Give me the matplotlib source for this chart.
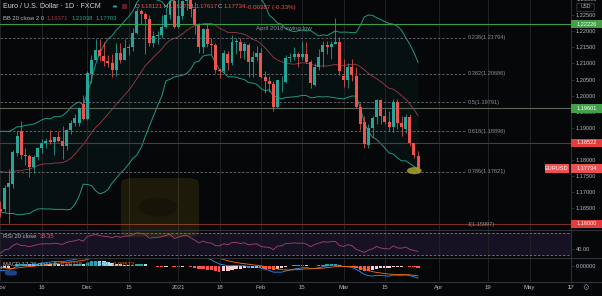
import numpy as np
import pandas as pd
import matplotlib
matplotlib.use("Agg")
import matplotlib.pyplot as plt
from matplotlib.patches import Ellipse, FancyBboxPatch, Rectangle, Circle
from matplotlib.transforms import blended_transform_factory, Bbox

plt.rcParams['font.family'] = ['Liberation Sans', 'DejaVu Sans']

W, H = 602, 296
BG = "#060709"
UP, DOWN = "#26a69a", "#ef5350"
TXT = "#b2b5be"

# daily EURUSD (FXCM), Nov 2 2020 .. Mar 25 2021, no bars on Dec 25 / Jan 1
opens = [1.1647, 1.1648, 1.1714, 1.1726, 1.1822, 1.1890, 1.1814, 1.1812, 1.1777, 1.1808,
         1.1837, 1.1853, 1.1860, 1.1854, 1.1871, 1.1858, 1.1842, 1.1892, 1.1913, 1.1916,
         1.1974, 1.1927, 1.2068, 1.2112, 1.2143, 1.2124, 1.2107, 1.2101, 1.2080, 1.2133,
         1.2110, 1.2147, 1.2150, 1.2196, 1.2262, 1.2253, 1.2238, 1.2164, 1.2186, 1.2189,
         1.2213, 1.2250, 1.2295, 1.2215, 1.2248, 1.2296, 1.2325, 1.2269, 1.2220, 1.2150,
         1.2207, 1.2162, 1.2156, 1.2080, 1.2076, 1.2128, 1.2101, 1.2166, 1.2168, 1.2140,
         1.2157, 1.2105, 1.2121, 1.2133, 1.2059, 1.2044, 1.2036, 1.1963, 1.2049, 1.2043,
         1.2116, 1.2120, 1.2130, 1.2121, 1.2128, 1.2104, 1.2033, 1.2090, 1.2136, 1.2158,
         1.2150, 1.2160, 1.2168, 1.2061, 1.2050, 1.2090, 1.2061, 1.1965, 1.1919, 1.1846,
         1.1898, 1.1932, 1.1987, 1.1937, 1.1918, 1.1903, 1.1981, 1.1913, 1.1896, 1.1934,
         1.1851, 1.18121]
highs = [1.1670, 1.1720, 1.1770, 1.1830, 1.1891, 1.1920, 1.1837, 1.1818, 1.1815, 1.1840,
         1.1865, 1.1868, 1.1892, 1.1872, 1.1890, 1.1905, 1.1895, 1.1925, 1.1942, 1.1965,
         1.2002, 1.2077, 1.2125, 1.2175, 1.2177, 1.2167, 1.2126, 1.2128, 1.2163, 1.2165,
         1.2177, 1.2162, 1.2211, 1.2273, 1.2269, 1.2260, 1.2250, 1.2200, 1.2200, 1.2250,
         1.2275, 1.2310, 1.2310, 1.2310, 1.2299, 1.2349, 1.2344, 1.2290, 1.2226, 1.2210,
         1.2223, 1.2180, 1.2165, 1.2086, 1.2143, 1.2140, 1.2190, 1.2180, 1.2179, 1.2168,
         1.2165, 1.2138, 1.2155, 1.2147, 1.2076, 1.2060, 1.2046, 1.2050, 1.2061, 1.2125,
         1.2134, 1.2150, 1.2137, 1.2170, 1.2168, 1.2110, 1.2100, 1.2145, 1.2170, 1.2170,
         1.2170, 1.2243, 1.2183, 1.2113, 1.2100, 1.2113, 1.2088, 1.1977, 1.1936, 1.1910,
         1.1935, 1.1990, 1.1990, 1.1958, 1.1953, 1.1989, 1.1990, 1.1935, 1.1944, 1.1942,
         1.1853, 1.18278]
lows = [1.1622, 1.1638, 1.1603, 1.1712, 1.1812, 1.1803, 1.1785, 1.1745, 1.1760, 1.1800,
        1.1820, 1.1838, 1.1848, 1.1815, 1.1855, 1.1802, 1.1830, 1.1880, 1.1905, 1.1905,
        1.1924, 1.1925, 1.2040, 1.2110, 1.2107, 1.2092, 1.2088, 1.2058, 1.2060, 1.2100,
        1.2110, 1.2126, 1.2140, 1.2191, 1.2222, 1.2130, 1.2155, 1.2150, 1.2162, 1.2180,
        1.2210, 1.2240, 1.2210, 1.2210, 1.2237, 1.2266, 1.2246, 1.2193, 1.2133, 1.2132,
        1.2152, 1.2128, 1.2071, 1.2054, 1.2071, 1.2080, 1.2095, 1.2130, 1.2118, 1.2115,
        1.2058, 1.2057, 1.2107, 1.2055, 1.2008, 1.2010, 1.1952, 1.1960, 1.2010, 1.2040,
        1.2105, 1.2112, 1.2090, 1.2110, 1.2101, 1.2022, 1.2030, 1.2080, 1.2090, 1.2130,
        1.2115, 1.2160, 1.2064, 1.2027, 1.2024, 1.2045, 1.1962, 1.1892, 1.1836, 1.1837,
        1.1872, 1.1910, 1.1910, 1.1910, 1.1890, 1.1885, 1.1895, 1.1873, 1.1883, 1.1842,
        1.1806, 1.17617]
closes = [1.1641, 1.1712, 1.1728, 1.1823, 1.1875, 1.1814, 1.1812, 1.1777, 1.1808, 1.1837,
          1.1853, 1.1858, 1.1854, 1.1871, 1.1858, 1.1842, 1.1892, 1.1913, 1.1930, 1.1961,
          1.1927, 1.2070, 1.2112, 1.2143, 1.2122, 1.2107, 1.2101, 1.2080, 1.2133, 1.2110,
          1.2147, 1.2150, 1.2196, 1.2262, 1.2253, 1.2238, 1.2164, 1.2187, 1.2189, 1.2213,
          1.2250, 1.2295, 1.2215, 1.2248, 1.2296, 1.2325, 1.2269, 1.2220, 1.2150, 1.2207,
          1.2162, 1.2156, 1.2080, 1.2076, 1.2132, 1.2101, 1.2166, 1.2170, 1.2140, 1.2160,
          1.2105, 1.2121, 1.2133, 1.2059, 1.2044, 1.2036, 1.1965, 1.2049, 1.2050, 1.2116,
          1.2120, 1.2130, 1.2121, 1.2128, 1.2104, 1.2038, 1.2090, 1.2120, 1.2158, 1.2150,
          1.2160, 1.2168, 1.2075, 1.2050, 1.2090, 1.2064, 1.1965, 1.1910, 1.1849, 1.1898,
          1.1929, 1.1987, 1.1935, 1.1918, 1.1901, 1.1981, 1.1913, 1.1903, 1.1934, 1.1851,
          1.1815, 1.17734]
# Sep/Oct 2020 closes, left of the visible range - only used to warm up the indicators
warmup = [1.1911, 1.1854, 1.1852, 1.1837, 1.1817, 1.1779, 1.1802, 1.1812, 1.1846, 1.1864,
          1.1846, 1.1815, 1.1848, 1.1838, 1.1770, 1.1703, 1.1658, 1.1671, 1.1631, 1.1667,
          1.1745, 1.1720, 1.1747, 1.1716, 1.1782, 1.1736, 1.1760, 1.1758, 1.1826, 1.1813,
          1.1746, 1.1747, 1.1706, 1.1717, 1.1770, 1.1825, 1.1862, 1.1817, 1.1860, 1.1811,
          1.1794, 1.1747, 1.1676, 1.1646]

first_day = "2020-11-02"
no_bar_days = ["2020-12-25", "2021-01-01"]
tick_days = ["2020-11-02", "2020-11-16", "2020-12-01", "2020-12-15", "2021-01-04", "2021-01-18",
             "2021-02-01", "2021-02-15", "2021-03-01", "2021-03-15", "2021-04-01", "2021-04-19",
             "2021-05-03", "2021-05-17"]
tick_names = ["Nov", "16", "Dec", "15", "2021", "18", "Feb", "15", "Mar", "15", "Apr", "19", "May", "17"]

fib_top, fib_bottom = 1.23585, 1.15997
fib_ratios = [0.236, 0.382, 0.5, 0.618, 0.786, 1.0]
swing_low = 1.22226
level_green = 1.19601
level_red = 1.18522
level_low = 1.16000

# ---- calendar / indicators ----
days = pd.bdate_range(first_day, "2021-06-30", freq="C", holidays=no_bar_days)
pos = {d.strftime("%Y-%m-%d"): i for i, d in enumerate(days)}
tick_x = [pos[d] for d in tick_days]

n = len(closes)
x = np.arange(n)
allc = pd.Series(warmup + closes)
xa = np.arange(-len(warmup), n)
basis = allc.rolling(20).mean()
sd = allc.rolling(20).std(ddof=0)
upper, lower = basis + 2 * sd, basis - 2 * sd

d = allc.diff()
ag = d.clip(lower=0).ewm(alpha=1 / 20, adjust=False).mean()
al = (-d.clip(upper=0)).ewm(alpha=1 / 20, adjust=False).mean()
rsi = 100 - 100 / (1 + ag / al)

macd = allc.ewm(span=12, adjust=False).mean() - allc.ewm(span=26, adjust=False).mean()
signal = macd.ewm(span=9, adjust=False).mean()
hist = macd - signal

# ---- figure ----
fig = plt.figure(figsize=(W / 100, H / 100), dpi=100, facecolor=BG)
axw = 571 / W


def box(top, bottom):
    return [0, 1 - bottom / H, axw, (bottom - top) / H]


ax = fig.add_axes(box(0, 229.5))
ax_rsi = fig.add_axes(box(230.5, 257.5))
ax_m = fig.add_axes(box(258.5, 281))

XL = (-0.12, 137.47)
for a in (ax, ax_rsi, ax_m):
    a.set_facecolor(BG)
    a.set_xlim(*XL)
    for s in ("top", "left", "bottom"):
        a.spines[s].set_visible(False)
    a.spines["right"].set_color("#2a2e39")
    a.spines["right"].set_linewidth(0.8)
    a.yaxis.tick_right()
    a.set_xticks(tick_x)
    a.grid(axis="x", color="#222328", lw=0.7)
    a.tick_params(axis="x", length=0, labelbottom=False)
    a.tick_params(axis="y", length=2, width=0.5, color="#363a45", labelsize=4.1,
                  labelcolor=TXT, pad=1.6)

# main panel
ax.set_ylim(1.15827, 1.22977)
yt = np.round(np.arange(1.165, 1.2251, 0.005), 3)
ax.set_yticks(yt)
ax.set_yticklabels([f"{v:.5f}" for v in yt])

ax.fill_between(xa, lower, upper, color="#1d8f7a", alpha=0.07, lw=0)
ax.plot(xa, upper, color="#1f9a80", lw=0.7)
ax.plot(xa, lower, color="#1f9a80", lw=0.7)
ax.plot(xa, basis, color="#a13a4b", lw=0.6)

for i, r in enumerate(fib_ratios):
    v = fib_top - r * (fib_top - fib_bottom)
    ax.plot([XL[0], 112.65], [v, v], color="#6b6d74", lw=0.6, ls=(0, (3, 2)))
    lab = "1" if r == 1 else f"{r:g}"
    ax.text(113.0, v, f"{lab}({v:.5f})", color="#8a8d96", fontsize=4.1, va="center", ha="left")

ax.axhline(swing_low, color="#3f9a48", lw=0.8)
ax.axhline(level_green, color="#5a6656", lw=0.8)
ax.axhline(level_red, color="#7f2626", lw=0.8)
ax.axhline(level_low, color="#7a2f24", lw=0.8)
ax.text(68.5, swing_low - 0.0015, "April 2018 swing low", color="#8f929b", fontsize=4.4,
        ha="center", va="center")

cols = [UP if c >= o else DOWN for o, c in zip(opens, closes)]
ax.vlines(x, lows, highs, colors=cols, lw=0.55, zorder=3)
bot = np.minimum(opens, closes)
hgt = np.maximum(np.abs(np.array(closes) - np.array(opens)), 0.00008)
ax.bar(x, hgt, bottom=bot, width=0.72, color=cols, lw=0, zorder=4)

ax.add_patch(Ellipse((100.1, 1.17659), 3.6, 0.0022, color="#b5b02c", alpha=0.8, lw=0, zorder=5))

# RSI panel
ax_rsi.set_ylim(25.5, 73.9)
ax_rsi.axhspan(30, 70, color="#7e57c2", alpha=0.14, lw=0)
ax_rsi.axhline(70, color="#787b86", lw=0.6, ls=(0, (3, 2)))
ax_rsi.axhline(30, color="#787b86", lw=0.6, ls=(0, (3, 2)))
ax_rsi.plot(xa, rsi, color="#a8436f", lw=0.6)
ax_rsi.set_yticks([40])
ax_rsi.set_yticklabels(["40.00"])

# MACD panel
ax_m.set_ylim(-0.00782, 0.00391)
hv = hist.values
hcol = []
for k in range(len(hv)):
    prev = hv[k - 1] if k > 0 else 0
    if hv[k] >= 0:
        hcol.append("#26a69a" if hv[k] > prev else "#b2dfdb")
    else:
        hcol.append("#ff5252" if hv[k] < prev else "#ffcdd2")
ax_m.bar(xa, hv, width=0.8, color=hcol, lw=0)
ax_m.plot(xa, macd, color="#2196f3", lw=0.6)
ax_m.plot(xa, signal, color="#ff6d00", lw=0.6)
ax_m.set_yticks([0])
ax_m.set_yticklabels(["0.00000"])
ax_m.tick_params(axis="x", labelbottom=True, labelsize=4.3, labelcolor=TXT, pad=3.2)
ax_m.set_xticklabels(tick_names)
tr = blended_transform_factory(ax_m.transData, ax_m.transAxes)
t17 = ax_m.text(pos["2021-05-17"], -0.31, "17", transform=tr, fontsize=4.3, color=TXT,
                ha="center", va="center", clip_on=True)
t17.set_clip_box(Bbox([[0, 0], [571, H]]))

# panel separators
for yy in (230, 258, 281.5):
    fig.add_artist(plt.Line2D([0, 1], [1 - yy / H] * 2, color="#2f323b", lw=0.8))

# right-axis price tags
trm = blended_transform_factory(ax.transAxes, ax.transData)
bw = 31 / 571
th = 8.5 / 3210


def tag(v, text, fc, x0=1.0, w=bw):
    ax.add_patch(Rectangle((x0, v - th / 2), w, th, transform=trm, color=fc, lw=0,
                           clip_on=False, zorder=6))
    ax.text(x0 + w / 2, v, text, transform=trm, color="white", fontsize=4.1, ha="center",
            va="center", clip_on=False, zorder=7)


tag(swing_low, f"{swing_low:.5f}", "#43a047")
tag(level_green, f"{level_green:.5f}", "#43a047")
tag(level_red, f"{level_red:.5f}", "#e53b3b")
tag(level_low, f"{level_low:.5f}", "#e53b3b")
tag(closes[-1], f"{closes[-1]:.5f}", "#ef4f4f")
tag(closes[-1], "EURUSD", "#ef4f4f", x0=545 / 571, w=23.5 / 571)

fig.text(576.5 / W, 1 - (-0.6) / H, "1.23000", color=TXT, fontsize=4.1, ha="left", va="center")
fig.add_artist(FancyBboxPatch((578 / W, 1 - 11 / H), 15 / W, 7 / H, boxstyle="round,pad=0.002",
                              fc=BG, ec="#434651", lw=0.5))
fig.text(585.5 / W, 1 - 7 / H, "USD", color=TXT, fontsize=3.6, ha="center", va="center")
fig.text(586 / W, 1 - 288.5 / H, "\u2699", color="#787b86", fontsize=5.5, ha="center", va="center")

# watermark
fig.add_artist(FancyBboxPatch((121 / W, 1 - 237 / H), 78 / W, 59 / H,
                              boxstyle="round,pad=0.0,rounding_size=0.02",
                              fc="#b89a10", ec="none", alpha=0.13))
fig.add_artist(Circle((158 / W, 1 - 207 / H), 0.032, fc="#000000", alpha=0.2,
                      transform=fig.transFigure))

# legends
fig.canvas.draw()
rend = fig.canvas.get_renderer()


def inline(x0, y0, parts, size=4.4, gap=2.2):
    xx = x0
    for s, c in parts:
        t = fig.text(xx / W, 1 - y0 / H, s, color=c, fontsize=size, ha="left", va="center")
        xx = t.get_window_extent(rend).x1 + gap


inline(3, 7, [("Euro / U.S. Dollar \u00b7 1D \u00b7 FXCM", "#d1d4dc")], size=5.1)
fig.add_artist(Circle((115 / W, 1 - 6.5 / H), 2.2 / W, fc="#26a69a", transform=fig.transFigure))
fig.add_artist(Rectangle((122 / W, 1 - 9 / H), 5 / W, 5 / H, fc="#5a1f2c", transform=fig.transFigure))
red = "#ef5350"
inline(135, 7, [("O", TXT), (f"{opens[-1]:.5f}", red), ("H", TXT), (f"{highs[-1]:.5f}", red),
                ("L", TXT), (f"{lows[-1]:.5f}", red), ("C", TXT), (f"{closes[-1]:.5f}", red),
                ("-0.00387 (-0.33%)", red)], size=4.4, gap=0.7)
inline(3, 18, [("BB 20 close 2 0", TXT), (f"{basis.iloc[-1]:.5f}", "#a13a4b"),
               (f"{upper.iloc[-1]:.5f}", UP), (f"{lower.iloc[-1]:.5f}", UP)], size=4.2, gap=3)
inline(3, 237, [("RSI 20 close", TXT), (f"{rsi.iloc[-1]:.2f}", "#e0506a")], size=4.2, gap=3)
inline(3, 264, [("MACD 12 26 close 9", TXT), (f"{hv[-1]:.5f}", "#ff5252"),
                (f"{macd.iloc[-1]:.5f}", "#2196f3"), (f"{signal.iloc[-1]:.5f}", "#ff6d00")],
       size=4.2, gap=3)
fig.add_artist(FancyBboxPatch((5 / W, 1 - 275.5 / H), 12 / W, 5 / H,
                              boxstyle="round,pad=0.0,rounding_size=0.006",
                              fc="#1e4fa8", ec="none", alpha=0.85))

fig.savefig("out.png", dpi=100, facecolor=BG)
